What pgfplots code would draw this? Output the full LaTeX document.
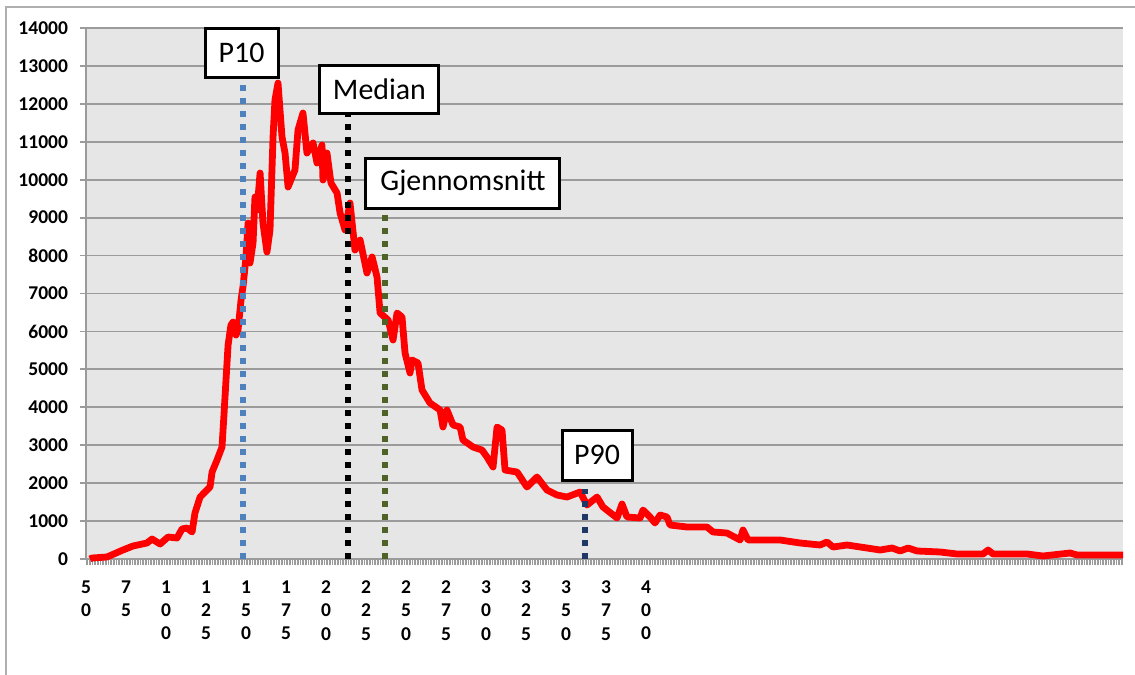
\documentclass[border=0pt]{standalone}
\usepackage{fontspec}
\setmainfont{Carlito}
\usepackage{pgfplots}
\pgfplotsset{compat=1.18}
\definecolor{bggray}{RGB}{230,230,230}
\definecolor{gridgray}{RGB}{155,155,155}
\definecolor{frame}{RGB}{175,175,175}
\definecolor{pten}{RGB}{79,129,189}
\definecolor{olivegr}{RGB}{79,98,40}
\definecolor{pninety}{RGB}{31,56,100}

\begin{document}
\begin{tikzpicture}
\path[use as bounding box] (-43bp,-58bp) rectangle (524.5bp,279.5bp);
\draw[frame, line width=1bp] (-40bp,-60bp) -- (-40bp,276bp) -- (526bp,276bp);
\begin{axis}[scale only axis, width=518.5bp, height=265.5bp,
  xmin=50, xmax=698.1, ymin=0, ymax=14000, clip=false,
  axis background/.style={fill=bggray},
  axis x line*=bottom, axis y line*=left,
  axis line style={gridgray, line width=0.8bp},
  ytick={0,1000,...,14000}, scaled y ticks=false,
  ymajorgrids, grid style={gridgray, line width=0.9bp},
  xtick={50,75,...,400},
  xticklabels={{5\\0},{7\\5},{1\\0\\0},{1\\2\\5},{1\\5\\0},{1\\7\\5},{2\\0\\0},{2\\2\\5},{2\\5\\0},{2\\7\\5},{3\\0\\0},{3\\2\\5},{3\\5\\0},{3\\7\\5},{4\\0\\0}},
  minor xtick={50,51,...,698},
  tick align=outside, major tick length=3bp, minor tick length=3bp,
  tick style={gridgray, line width=0.4bp}, ytick style={line width=0.9bp},
  /pgf/number format/assume math mode=true,
  /pgf/number format/1000 sep={},
  yticklabel style={font=\bfseries\fontsize{9.8}{10}\selectfont, xshift=-2.5bp},
  xticklabel style={font=\bfseries\fontsize{9.8}{11.6}\selectfont, align=center, anchor=north, yshift=-4.5bp},
  ]
\addplot[red, line width=3.4bp, line join=round] coordinates {
(52.5,0)(53.8,26)(63.1,53)(73.1,237)(79.4,343)(88.1,422)(91.3,527)(96.3,395)(101.3,580)(106.9,554)
(110,791)(113.1,817)(116.3,712)(118.1,1213)(121.3,1634)(125.6,1819)(127.5,1898)(128.8,2293)(131.9,2610)(135,2952)
(136.3,3849)(137.5,4718)(138.8,5641)(140.6,6168)(141.9,6247)(143.8,5905)(145,6036)(146.9,6827)(148.1,7171)(150,7962)
(151.3,8858)(152.5,7804)(154.4,8331)(155.6,9544)(156.9,9201)(158.8,10177)(160.6,8858)(163.1,8094)(165,8673)(166.9,11126)
(168.1,12101)(170,12549)(172.5,11126)(174.4,10704)(176.3,9808)(178.8,10071)(180.6,10255)(182.5,11310)(185.6,11758)(188.1,10704)
(191.9,10968)(194.4,10440)(197.5,10915)(198.1,9992)(200.6,10704)(203.1,9913)(206.9,9649)(208.8,9122)(211.9,8674)(215,9386)
(218.1,8147)(221.3,8410)(225.6,7540)(228.8,7962)(231.9,7434)(233.8,6486)(238.8,6300)(241.9,5774)(244.4,6486)(247.5,6380)
(249.4,5431)(252.5,4904)(253.8,5247)(257.5,5168)(260,4456)(265,4113)(271.3,3928)(273.1,3480)(275.6,3928)(279.4,3533)
(283.8,3480)(285.6,3137)(291.9,2952)(297.5,2873)(300.6,2689)(304.4,2426)(306.9,3480)(310,3400)(311.9,2346)(319.4,2293)
(325.6,1898)(331.9,2162)(338.1,1819)(344.4,1687)(350.6,1634)(358.8,1766)(363.1,1423)(369.4,1634)(373.1,1371)(381.9,1081)
(385,1450)(388.1,1107)(396.3,1081)(398.1,1292)(402.5,1107)(405.6,949)(408.8,1160)(413.1,1107)(415,896)(425.6,844)
(438.1,844)(441.9,712)(450.6,685)(458.8,501)(460.6,764)(463.8,501)(475.6,501)(483.8,501)(496.3,422)(508.8,369)
(513.1,448)(516.9,316)(525.6,369)(538.1,290)(546.3,237)(553.8,290)(558.8,211)(563.8,290)(569.4,211)(583.8,185)
(594.4,132)(610.6,132)(613.8,237)(616.9,132)(638.1,132)(648.1,79)(665,158)(669.4,105)(698.1,105)
};
\addplot[pten, line width=3.3bp, dash pattern=on 3.2bp off 3.3bp] coordinates {(148.1,0)(148.1,12706)};
\addplot[black, line width=3.3bp, dash pattern=on 3.2bp off 3.3bp] coordinates {(213.8,0)(213.8,11757)};
\addplot[olivegr, line width=3.3bp, dash pattern=on 3.2bp off 3.3bp] coordinates {(236.9,0)(236.9,9279)};
\addplot[pninety, line width=3.3bp, dash pattern=on 3.2bp off 3.3bp] coordinates {(361.9,0)(361.9,1845)};
\tikzset{lbl/.style={draw=black, line width=1.5bp, fill=white, inner sep=0pt, font=\fontsize{15}{15}\selectfont}}
\node[lbl, minimum width=36.5bp, minimum height=24.5bp] at (axis cs:147.2,13351) {P10};
\node[lbl, minimum width=59.5bp, minimum height=24bp] at (axis cs:233.4,12389) {Median};
\node[lbl, minimum width=97bp, minimum height=25bp] at (axis cs:285.6,9911) {Gjennomsnitt};
\node[lbl, minimum width=35bp, minimum height=25bp] at (axis cs:369.4,2741) {P90};
\end{axis}
\end{tikzpicture}
\end{document}
